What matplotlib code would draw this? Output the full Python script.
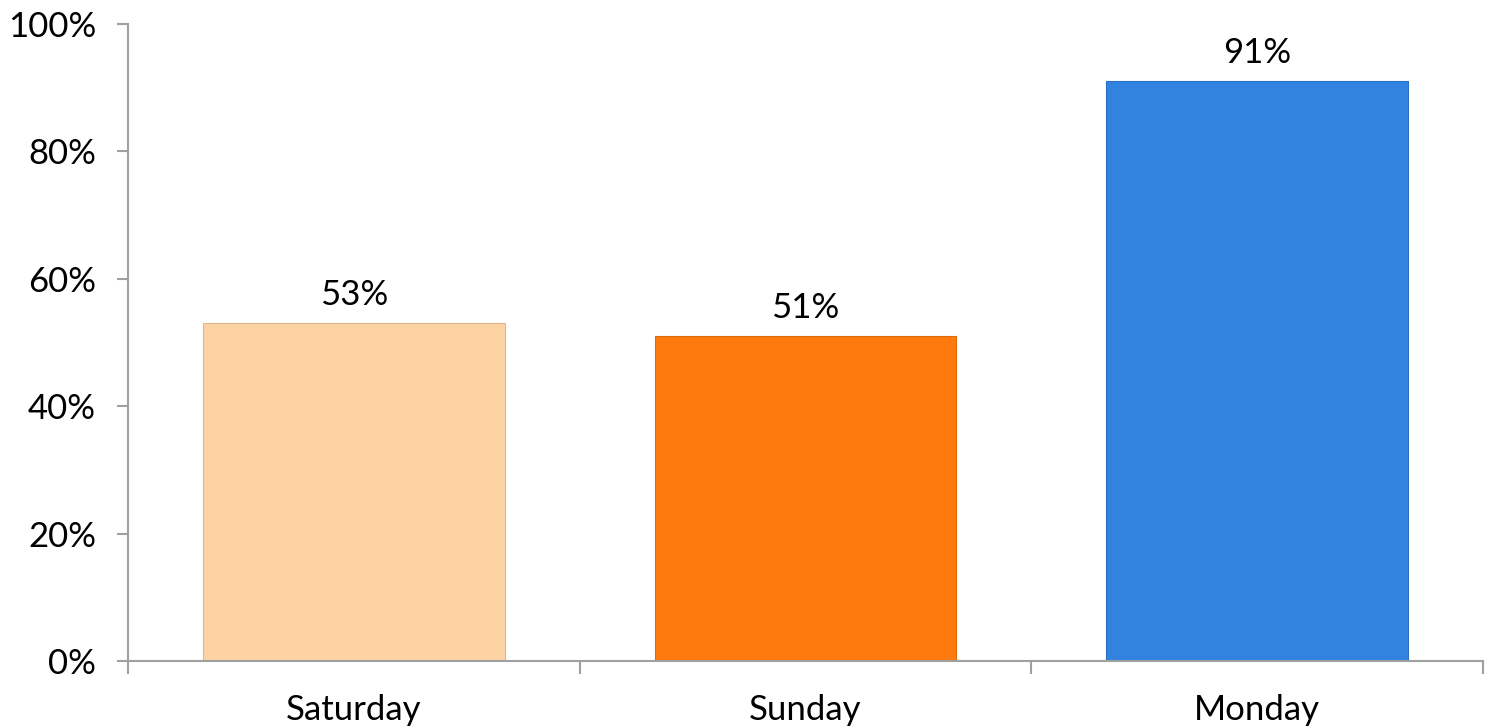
import matplotlib
matplotlib.use("Agg")
import matplotlib.pyplot as plt
from matplotlib.ticker import FixedLocator, PercentFormatter

categories = ["Saturday", "Sunday", "Monday"]
values = [53, 51, 91]
colors = ["#FDD3A4", "#FF7A0E", "#3282E0"]
edge_colors = ["#E0B890", "#E06A0A", "#2A70C0"]
yticks = [0, 20, 40, 60, 80, 100]

plt.rcParams['font.family'] = ['Lato', 'DejaVu Sans']

fig = plt.figure(figsize=(14.89, 7.28), dpi=100)
ax = fig.add_axes([128/1489, 1-661/728, (1483-128)/1489, (661-24)/728])

x = list(range(len(categories)))
bars = ax.bar(x, values, width=0.668, color=colors, edgecolor=edge_colors, linewidth=0.8, zorder=2)

for xi, v in zip(x, values):
    ax.annotate(f"{v}%", (xi, v), xytext=(0, 9), textcoords="offset points",
                ha="center", va="bottom", fontsize=25, color="black")

ax.set_xlim(-0.5, 2.5)
ax.set_ylim(0, 100)
ax.set_yticks(yticks)
ax.yaxis.set_major_formatter(PercentFormatter(decimals=0))
ax.set_xticks(x)
ax.set_xticklabels(categories)
ax.xaxis.set_minor_locator(FixedLocator([-0.5, 0.5, 1.5, 2.5]))

for s in ["top", "right"]:
    ax.spines[s].set_visible(False)
for s in ["left", "bottom"]:
    ax.spines[s].set_color("#A0A0A0")
    ax.spines[s].set_linewidth(1.5)

ax.tick_params(axis="x", which="major", length=0, pad=24, labelsize=25)
ax.tick_params(axis="x", which="minor", length=9, width=1.5, color="#A0A0A0")
ax.tick_params(axis="y", which="major", length=8, width=1.5, color="#A0A0A0", pad=15, labelsize=25)

fig.savefig("out.png", dpi=100, facecolor="white")
